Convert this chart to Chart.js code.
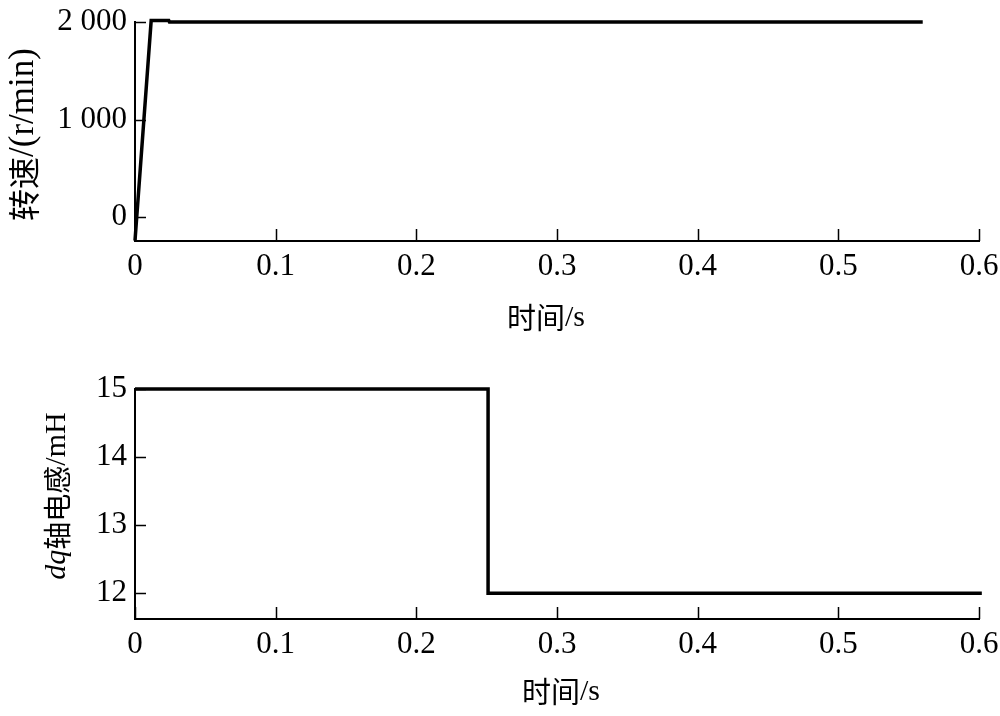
<!DOCTYPE html>
<html>
<head>
<meta charset="utf-8">
<script src="https://cdn.jsdelivr.net/npm/chart.js@4.4.0/dist/chart.umd.min.js"></script>
<style>
  html, body { margin: 0; padding: 0; background: #fff; }
  .box { position: absolute; left: 0; width: 1000px; height: 358px; }
</style>
</head>
<body>
<div class="box" style="top:0"><canvas id="speedChart"></canvas></div>
<div class="box" style="top:358px"><canvas id="inductChart"></canvas></div>
<script>
// data
const timeTicks = [0, 0.1, 0.2, 0.3, 0.4, 0.5, 0.6];
const timeTickLabels = ['0', '0.1', '0.2', '0.3', '0.4', '0.5', '0.6'];

const speedTime = [0, 0.0115, 0.024, 0.0245, 0.56];
const speedValue = [-240, 2015, 2015, 2000, 2000];
const speedTicks = [0, 1000, 2000];
const speedTickLabels = ['0', '1 000', '2 000'];

const inductTime = [0, 0.251, 0.251, 0.602];
const inductValue = [15, 15, 12, 12];
const inductTicks = [12, 13, 14, 15];
const inductTickLabels = ['12', '13', '14', '15'];

const LATIN = '"Liberation Serif", "Times New Roman", serif';
const CJK = '"Noto Sans CJK SC", sans-serif';

function toPoints(xs, ys) {
  return xs.map((x, i) => ({ x: x, y: ys[i] }));
}

// draw a row of text pieces with their own fonts, centred on (0,0)
function drawPieces(ctx, pieces) {
  let total = 0;
  pieces.forEach(p => { ctx.font = p.font; p.w = ctx.measureText(p.text).width; total += p.w; });
  let x = -total / 2;
  ctx.textBaseline = 'middle';
  ctx.textAlign = 'left';
  pieces.forEach(p => { ctx.font = p.font; ctx.fillText(p.text, x, 0); x += p.w; });
}

// inward tick marks and axis titles
const axisExtras = {
  id: 'axisExtras',
  afterDraw(chart, args, opts) {
    const ctx = chart.ctx;
    const area = chart.chartArea;
    const xs = chart.scales.x, ys = chart.scales.y;
    ctx.save();
    ctx.strokeStyle = '#000';
    ctx.lineWidth = 1.5;
    ctx.beginPath();
    xs.ticks.forEach(t => {
      const px = Math.round(xs.getPixelForValue(t.value)) + 0.5;
      ctx.moveTo(px, area.bottom);
      ctx.lineTo(px, area.bottom - 12);
    });
    ys.ticks.forEach(t => {
      const py = Math.round(ys.getPixelForValue(t.value)) + 0.5;
      ctx.moveTo(area.left, py);
      ctx.lineTo(area.left + 11, py);
    });
    ctx.stroke();

    ctx.fillStyle = '#000';
    // x title
    ctx.save();
    ctx.translate((area.left + area.right) / 2 + opts.xShift, opts.xTitleY);
    drawPieces(ctx, opts.xTitle);
    ctx.restore();
    // y title
    ctx.save();
    ctx.translate(opts.yTitleX, (area.top + area.bottom) / 2 + opts.yShift);
    ctx.rotate(-Math.PI / 2);
    drawPieces(ctx, opts.yTitle);
    ctx.restore();
    ctx.restore();
  }
};

function makeChart(id, xs, ys, yMin, yMax, yTicks, yLabels, pad, xHeight, extras) {
  return new Chart(document.getElementById(id), {
    type: 'line',
    data: {
      datasets: [{
        data: toPoints(xs, ys),
        borderColor: '#000',
        borderWidth: 3.5,
        pointRadius: 0,
        tension: 0,
        clip: false
      }]
    },
    options: {
      responsive: true,
      maintainAspectRatio: false,
      animation: false,
      layout: { padding: pad },
      plugins: { legend: { display: false }, tooltip: { enabled: false }, axisExtras: extras },
      scales: {
        x: {
          type: 'linear',
          min: 0,
          max: 0.6,
          afterBuildTicks: s => { s.ticks = timeTicks.map(v => ({ value: v })); },
          afterFit: s => { s.height = xHeight; s.paddingLeft = 0; s.paddingRight = 0; },
          grid: { drawOnChartArea: false, drawTicks: false },
          border: { color: '#000', width: 2 },
          ticks: {
            color: '#000',
            padding: 7,
            maxRotation: 0,
            font: { family: LATIN, size: 31 },
            callback: (v, i) => timeTickLabels[i]
          }
        },
        y: {
          min: yMin,
          max: yMax,
          afterBuildTicks: s => { s.ticks = yTicks.map(v => ({ value: v })); },
          afterFit: s => { s.width = 135; s.paddingTop = 0; s.paddingBottom = 0; },
          grid: { drawOnChartArea: false, drawTicks: false },
          border: { color: '#000', width: 2 },
          ticks: {
            color: '#000',
            padding: 8,
            font: { family: LATIN, size: 31 },
            callback: (v, i) => yLabels[i]
          }
        }
      }
    },
    plugins: [axisExtras]
  });
}

makeChart('speedChart', speedTime, speedValue, -245, 2000, speedTicks, speedTickLabels,
  { top: 22, right: 21, left: 0, bottom: 0 }, 117,
  {
    xTitleY: 318, xShift: -11,
    yTitleX: 24, yShift: 3,
    xTitle: [{ text: '时间', font: '29px ' + CJK }, { text: '/s', font: '30px ' + LATIN }],
    yTitle: [{ text: '转速', font: '32px ' + CJK }, { text: '/(r/min)', font: '35px ' + LATIN }]
  });

makeChart('inductChart', inductTime, inductValue, 11.62, 15, inductTicks, inductTickLabels,
  { top: 31, right: 21, left: 0, bottom: 0 }, 97,
  {
    xTitleY: 334, xShift: 4,
    yTitleX: 57, yShift: -8,
    xTitle: [{ text: '时间', font: '29px ' + CJK }, { text: '/s', font: '30px ' + LATIN }],
    yTitle: [{ text: 'dq', font: 'italic 30px ' + LATIN }, { text: '轴电感', font: '28px ' + CJK }, { text: '/mH', font: '30px ' + LATIN }]
  });
</script>
</body>
</html>
